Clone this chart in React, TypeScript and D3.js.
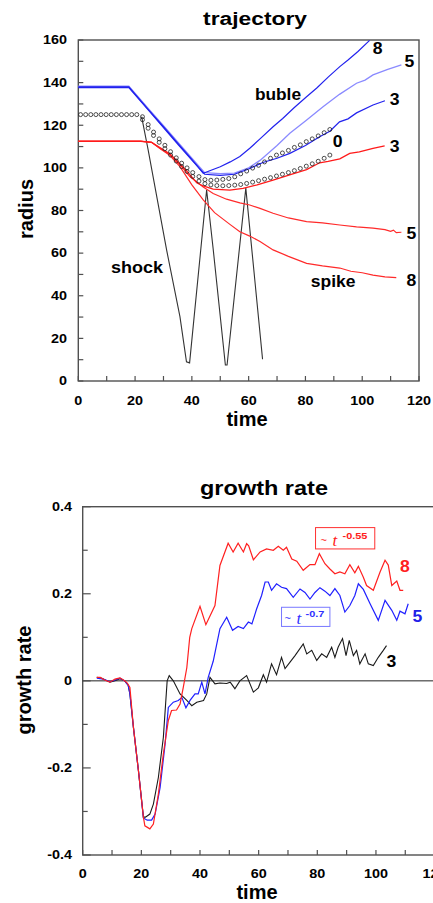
import React from 'react'
import { scaleLinear, line } from 'd3'

const WIDTH = 433
const HEIGHT = 903
const SANS = '"Liberation Sans", Arial, sans-serif'
const SERIF = '"Liberation Serif", "Times New Roman", serif'

// ---- trajectory (time, radius) ----
const BUBBLE_8 = [[0, 138], [17.8, 138], [25, 126.9], [30, 119.3], [35, 111.6], [40, 104], [44, 97.5], [47, 99], [50, 100.5], [53.5, 102.8], [56.9, 105.3], [60.4, 109.2], [64, 113.6], [68.6, 119.3], [72, 123.2], [76, 128.2], [80.4, 133.4], [84, 137.5], [88, 142.6], [92.1, 147.5], [95, 150.6], [98.5, 154.6], [102.6, 159.8]]
const BUBBLE_5 = [[0, 138.3], [17.8, 138.3], [25, 127.3], [30, 119.8], [35, 112.2], [40, 104.6], [44.5, 97.8], [50, 97.3], [55, 97.5], [60, 100], [64, 103.5], [70, 110.5], [74.5, 116.2], [80, 122], [86.2, 128.7], [92, 134.5], [98, 139.7], [101, 141.2], [103.8, 143.6], [109, 146.2], [113.8, 148.3]]
const BUBBLE_3 = [[0, 137.7], [17.8, 137.7], [25, 126.6], [30, 118.9], [35, 111.2], [40, 103.6], [44.5, 97], [50, 96.5], [55, 97], [60, 99.5], [65, 102.5], [70, 104.5], [74.5, 106.8], [80, 110.5], [85, 114.6], [88.6, 117.2], [92, 121.6], [95, 123], [98, 125.8], [103.8, 129.5], [108, 131.5]]
const SPIKE_3 = [[0, 112.5], [22, 112.5], [25.8, 112], [29, 109.3], [32.3, 106.5], [35, 103], [38, 98.8], [41.7, 93], [44, 91.5], [47.5, 90], [53.4, 89.6], [58, 90.4], [63, 92], [68.6, 94.3], [75, 97], [80.4, 99.2], [85, 102.4], [88, 103], [92.1, 104.2], [95.6, 106.8], [99, 107.5], [103.8, 109.2], [107.9, 110.3]]
const SPIKE_5 = [[0, 112.5], [22, 112.5], [25.8, 112], [29, 109], [32.3, 106.3], [35.8, 101.5], [39.3, 95.9], [44, 91], [47.5, 88], [52.2, 85.3], [56.9, 83.6], [60.4, 82.6], [64, 81], [68.6, 78.7], [74, 76.5], [80.4, 74.8], [86, 74.2], [92.1, 73.2], [98, 72.3], [103.8, 71.7], [108, 71], [110, 70.2], [111, 70.8], [112, 69.6], [113.8, 69.8]]
const SPIKE_8 = [[0, 112.5], [22, 112.5], [25.8, 112], [29, 108.8], [32.3, 105.8], [35.8, 100.6], [40, 92], [44, 85], [48, 79], [53.4, 73.5], [56.9, 70], [60.4, 68], [64, 65.5], [68.6, 61.5], [74, 58.5], [80.4, 55.2], [86, 54], [92.1, 53], [96, 51.5], [100, 50.8], [103.8, 49.7], [108, 48.9], [112, 48.5]]
const SHOCK = [[22.3, 124], [24.6, 108.4], [31.1, 61.5], [35.8, 30.2], [38.1, 9], [39.2, 8.5], [45.2, 89.6], [47.5, 62], [51.8, 7.5], [52.4, 7.5], [59, 90.5], [64.9, 10.2]]
const DOTS_FLAT = [[0.8, 125], [2.6, 125], [4.4, 125], [6.2, 125], [8, 125], [9.8, 125], [11.6, 125], [13.4, 125], [15.2, 125], [17, 125], [18.8, 125], [20.6, 125]]
const DOTS_UPPER = [[22.6, 124], [24.6, 120.3], [26.5, 116.8], [28.5, 113.6], [30.5, 110.6], [32.5, 107.6], [34.5, 104.7], [36.4, 102.2], [38.3, 100], [40.3, 97.8], [42.5, 95.9], [44.6, 94.5], [46.7, 94.2], [48.8, 94.3], [50.9, 94.6], [53, 95], [55.1, 95.8], [57.2, 97.2], [59.3, 98.5], [61.4, 99.9], [63.5, 101.2], [65.6, 102.8], [67.7, 104.5], [69.8, 106], [71.9, 107], [74, 108.2], [76.1, 109.6], [78.2, 110.8], [80.3, 112.3], [82.4, 113.6], [84.5, 115], [86.6, 116.5], [88.6, 118]]
const DOTS_LOWER = [[22.6, 122.6], [24.6, 118.6], [26.5, 115.2], [28.5, 112], [30.5, 109], [32.5, 106], [34.5, 103.2], [36.4, 100.6], [38.3, 98.3], [40.3, 96], [42.5, 93.8], [44.6, 92.6], [46.7, 92], [48.8, 91.7], [50.9, 91.6], [53, 91.7], [55.1, 91.9], [57.2, 92.2], [59.3, 92.7], [61.4, 93.3], [63.5, 94], [65.6, 94.7], [67.7, 95.4], [69.8, 96.2], [71.9, 97], [74, 97.8], [76.1, 98.7], [78.2, 99.7], [80.3, 100.8], [82.4, 101.9], [84.5, 103.1], [86.6, 104.5], [88.6, 106]]

// ---- growth rate (time, rate) ----
const RATE_8 = [[4.8, 0.008], [6, 0.008], [7.5, 0.002], [9.3, -0.003], [11, 0.004], [12.7, 0.007], [14.3, 0], [15.2, -0.005], [16.1, -0.015], [17.3, -0.107], [19, -0.206], [20.7, -0.313], [21.2, -0.333], [22.9, -0.34], [24.1, -0.329], [25.8, -0.26], [27.5, -0.168], [29.2, -0.091], [30.3, -0.068], [32, -0.067], [33.2, -0.053], [34.3, -0.015], [35.5, 0.03], [36.5, 0.1], [37.2, 0.12], [40, 0.171], [42, 0.129], [45.1, 0.173], [46.8, 0.265], [49.6, 0.316], [51.3, 0.296], [53, 0.316], [54.8, 0.296], [55.9, 0.315], [56.6, 0.31], [58.2, 0.278], [60.5, 0.296], [62.7, 0.303], [65, 0.3], [66.7, 0.309], [68.4, 0.3], [69.5, 0.307], [71.3, 0.28], [73, 0.275], [75.2, 0.254], [77.5, 0.267], [79.2, 0.267], [80.7, 0.292], [82.6, 0.269], [84.3, 0.257], [86, 0.246], [87.7, 0.25], [89.4, 0.246], [91.1, 0.267], [92.8, 0.248], [94, 0.263], [95.7, 0.238], [96.8, 0.219], [99.1, 0.208], [101.4, 0.25], [103.1, 0.277], [104.2, 0.266], [105.4, 0.219], [107.1, 0.229], [108.2, 0.208], [109.3, 0.208]]
const RATE_5 = [[4.8, 0.006], [7, 0.004], [9.3, -0.002], [11, 0.002], [12.7, 0.006], [14.3, 0], [15.5, -0.01], [16.1, -0.03], [17.3, -0.107], [19, -0.206], [20.7, -0.315], [22, -0.32], [23.5, -0.32], [24.7, -0.306], [26.4, -0.245], [28.1, -0.145], [29.2, -0.061], [30.9, -0.049], [32.6, -0.045], [33.8, -0.038], [35.2, -0.062], [36.6, -0.045], [38.3, -0.03], [39.4, -0.03], [40.6, -0.003], [41.7, -0.03], [42.8, 0.008], [44.5, 0.045], [46.8, 0.12], [49.1, 0.146], [51.1, 0.116], [53, 0.125], [54.8, 0.12], [56.5, 0.135], [57.7, 0.131], [59.3, 0.165], [61, 0.196], [62.2, 0.227], [63.3, 0.227], [64.4, 0.208], [66.1, 0.223], [67.8, 0.215], [69.5, 0.212], [71.8, 0.192], [74.1, 0.211], [75.8, 0.203], [77.5, 0.188], [79.2, 0.203], [80.9, 0.214], [82.6, 0.206], [84.3, 0.196], [86, 0.212], [87.7, 0.196], [89.4, 0.158], [91.1, 0.173], [92.8, 0.196], [94, 0.223], [95.7, 0.21], [98, 0.177], [100.8, 0.139], [103.1, 0.185], [105.4, 0.162], [107.1, 0.139], [108.2, 0.16], [109.9, 0.154], [111, 0.177]]
const RATE_3 = [[4.8, 0.008], [6.5, 0.006], [9.3, -0.003], [11, 0], [12.7, 0.005], [14.3, 0], [15.5, -0.01], [16.1, -0.03], [17.3, -0.107], [19, -0.206], [20.7, -0.313], [21.4, -0.313], [22.9, -0.306], [24.1, -0.283], [25.8, -0.222], [27.5, -0.13], [28.8, 0], [29.5, 0.012], [30.9, 0], [33.2, -0.03], [35.5, -0.045], [37.2, -0.057], [38.9, -0.049], [41.2, -0.045], [42.3, -0.03], [43.4, 0.008], [45.1, -0.007], [46.8, -0.005], [49.1, -0.006], [50.3, -0.003], [51.9, -0.018], [53.6, 0], [55.9, 0.012], [58.2, -0.026], [59.9, -0.016], [61.6, 0.014], [62.7, -0.003], [64.4, 0.039], [66.1, 0.014], [67.8, 0.054], [69, 0.028], [70.7, 0.043], [72.4, 0.058], [75.2, 0.085], [76.4, 0.062], [78.1, 0.07], [79.8, 0.047], [81.5, 0.062], [83.2, 0.054], [84.9, 0.077], [86, 0.054], [87.1, 0.077], [88.6, 0.097], [89.8, 0.058], [90.9, 0.093], [92.3, 0.058], [93.4, 0.07], [94.5, 0.039], [96.3, 0.062], [97.4, 0.039], [99.1, 0.035], [100.8, 0.054], [102.5, 0.07], [103.6, 0.081]]

const TIME_LABELS = [0, 20, 40, 60, 80, 100, 120]
const RADIUS_LABELS = [0, 20, 40, 60, 80, 100, 120, 140, 160]
const RATE_LABELS = [-0.4, -0.2, 0, 0.2, 0.4]

const Txt = ({ x, y, size, children, anchor = 'start', sx = 1, fill = '#000', weight = 'bold', family = SANS, rotate = 0, italic = false }) => (
  <text
    transform={`translate(${x},${y})${rotate ? ` rotate(${rotate})` : ''} scale(${sx},1)`}
    fontSize={size} textAnchor={anchor} fill={fill} fontWeight={weight}
    fontFamily={family} fontStyle={italic ? 'italic' : 'normal'}
  >{children}</text>
)

const AXIS = '#505050'

const Trajectory = () => {
  const x = scaleLinear().domain([0, 120]).range([78.3, 419])
  const y = scaleLinear().domain([0, 160]).range([381, 40])
  const path = line().x(d => x(d[0])).y(d => y(d[1]))

  return (
    <g>
      <rect x={x(0)} y={y(160)} width={x(120) - x(0)} height={y(0) - y(160)} fill="none" stroke={AXIS} strokeWidth={1.4} />
      {x.ticks(12).map(t => (
        <line key={'xt' + t} x1={x(t)} x2={x(t)} y1={y(0)} y2={y(0) - 5} stroke={AXIS} strokeWidth={1.2} />
      ))}
      {y.ticks(16).map(t => (
        <line key={'yt' + t} x1={x(0)} x2={x(0) + 5} y1={y(t)} y2={y(t)} stroke={AXIS} strokeWidth={1.2} />
      ))}
      {TIME_LABELS.map(t => (
        <Txt key={'xl' + t} x={x(t)} y={405} size={12} sx={1.2} anchor="middle">{t}</Txt>
      ))}
      {RADIUS_LABELS.map(t => (
        <Txt key={'yl' + t} x={67} y={y(t) + 4.3} size={12} sx={1.2} anchor="end">{t}</Txt>
      ))}

      <path d={path(SHOCK)} fill="none" stroke="#333" strokeWidth={1.1} />
      <path d={path(SPIKE_8)} fill="none" stroke="#ff2a2a" strokeWidth={1.2} />
      <path d={path(SPIKE_5)} fill="none" stroke="#ff2a2a" strokeWidth={1.2} />
      <path d={path(SPIKE_3)} fill="none" stroke="#ff1a1a" strokeWidth={1.3} />
      <path d={path(BUBBLE_5)} fill="none" stroke="#8a8aff" strokeWidth={1.3} />
      <path d={path(BUBBLE_3)} fill="none" stroke="#2222ee" strokeWidth={1.2} />
      <path d={path(BUBBLE_8)} fill="none" stroke="#2222ee" strokeWidth={1.2} />
      {[...DOTS_FLAT, ...DOTS_UPPER, ...DOTS_LOWER].map((d, i) => (
        <circle key={'c' + i} cx={x(d[0])} cy={y(d[1])} r={2} fill="none" stroke="#222" strokeWidth={0.8} />
      ))}

      <Txt x={x(103.7)} y={y(153.4)} size={16} sx={1.1}>8</Txt>
      <Txt x={x(114.9)} y={y(147.5)} size={16} sx={1.1}>5</Txt>
      <Txt x={x(109.7)} y={y(129.5)} size={16} sx={1.1}>3</Txt>
      <Txt x={x(89.6)} y={y(109.9)} size={16} sx={1.1}>0</Txt>
      <Txt x={x(109.7)} y={y(107.6)} size={16} sx={1.1}>3</Txt>
      <Txt x={x(115.6)} y={y(66.6)} size={16} sx={1.1}>5</Txt>
      <Txt x={x(115.6)} y={y(44.7)} size={16} sx={1.1}>8</Txt>
      <Txt x={x(62.2)} y={y(131.9)} size={16.5} sx={1.05}>buble</Txt>
      <Txt x={x(11.5)} y={y(50.5)} size={17} sx={1.06}>shock</Txt>
      <Txt x={x(81.9)} y={y(44)} size={17} sx={1.03}>spike</Txt>

      <Txt x={255} y={25} size={19} sx={1.2} anchor="middle">trajectory</Txt>
      <Txt x={247} y={426} size={20} anchor="middle">time</Txt>
      <Txt x={33} y={209} size={20} rotate={-90} anchor="middle">radius</Txt>
    </g>
  )
}

const GrowthRate = () => {
  const x = scaleLinear().domain([0, 120]).range([82.7, 434.6])
  const y = scaleLinear().domain([-0.4, 0.4]).range([855, 506.7])
  const path = line().x(d => x(d[0])).y(d => y(d[1]))
  const fmt = v => (v === 0 ? '0' : String(v))

  return (
    <g>
      <rect x={x(0)} y={y(0.4)} width={x(120) - x(0)} height={y(-0.4) - y(0.4)} fill="none" stroke={AXIS} strokeWidth={1.4} />
      <line x1={x(0)} x2={x(120)} y1={y(0)} y2={y(0)} stroke="#222" strokeWidth={1} />
      {x.ticks(12).map(t => (
        <line key={'xt' + t} x1={x(t)} x2={x(t)} y1={y(-0.4)} y2={y(-0.4) - 5} stroke={AXIS} strokeWidth={1.2} />
      ))}
      {y.ticks(8).map(t => (
        <line key={'yt' + t} x1={x(0)} x2={x(0) + (Math.round(t * 10) % 2 === 0 ? 8 : 5)} y1={y(t)} y2={y(t)} stroke={AXIS} strokeWidth={1.2} />
      ))}
      {TIME_LABELS.map(t => (
        <Txt key={'xl' + t} x={x(t)} y={878} size={12} sx={1.2} anchor="middle">{t}</Txt>
      ))}
      {RATE_LABELS.map(t => (
        <Txt key={'yl' + t} x={72} y={y(t) + 4.3} size={12} sx={1.2} anchor="end">{fmt(t)}</Txt>
      ))}

      <path d={path(RATE_3)} fill="none" stroke="#1a1a1a" strokeWidth={1.1} />
      <path d={path(RATE_5)} fill="none" stroke="#2020ff" strokeWidth={1.2} />
      <path d={path(RATE_8)} fill="none" stroke="#ff2020" strokeWidth={1.2} />

      <rect x={x(79.4)} y={y(0.352)} width={x(99.6) - x(79.4)} height={y(0.303) - y(0.352)} fill="#fff" stroke="#ff3030" strokeWidth={1} />
      <Txt x={x(79.4) + 5} y={y(0.352) + 16} size={11} weight="normal" fill="#ff2020">~</Txt>
      <Txt x={x(79.4) + 17} y={y(0.352) + 18} size={17} weight="normal" family={SERIF} italic fill="#ff2020">t</Txt>
      <Txt x={x(79.4) + 27} y={y(0.352) + 11} size={9.5} sx={1.15} fill="#ff2020">-0.55</Txt>

      <rect x={x(67.8)} y={y(0.169)} width={x(84.3) - x(67.8)} height={y(0.125) - y(0.169)} fill="#fff" stroke="#7878ff" strokeWidth={1} />
      <Txt x={x(67.8) + 3} y={y(0.169) + 15} size={11} weight="normal" fill="#3030ff">~</Txt>
      <Txt x={x(67.8) + 15} y={y(0.169) + 17} size={17} weight="normal" family={SERIF} italic fill="#3030ff">t</Txt>
      <Txt x={x(67.8) + 24} y={y(0.169) + 10} size={9.5} sx={1.15} fill="#3030ff">-0.7</Txt>

      <Txt x={x(108.2)} y={y(0.25)} size={16} sx={1.1} fill="#ff2020">8</Txt>
      <Txt x={x(112.5)} y={y(0.135)} size={16} sx={1.1} fill="#2020e8">5</Txt>
      <Txt x={x(103.6)} y={y(0.031)} size={16} sx={1.1}>3</Txt>

      <Txt x={264} y={495} size={21} sx={1.12} anchor="middle">growth rate</Txt>
      <Txt x={257} y={899} size={20} anchor="middle">time</Txt>
      <Txt x={31} y={680} size={20} rotate={-90} anchor="middle">growth rate</Txt>
    </g>
  )
}

const App = () => (
  <svg width={WIDTH} height={HEIGHT} viewBox={`0 0 ${WIDTH} ${HEIGHT}`}
    style={{ position: 'absolute', left: 0, top: 0, background: '#fff' }}>
    <Trajectory />
    <GrowthRate />
  </svg>
)

export default App
